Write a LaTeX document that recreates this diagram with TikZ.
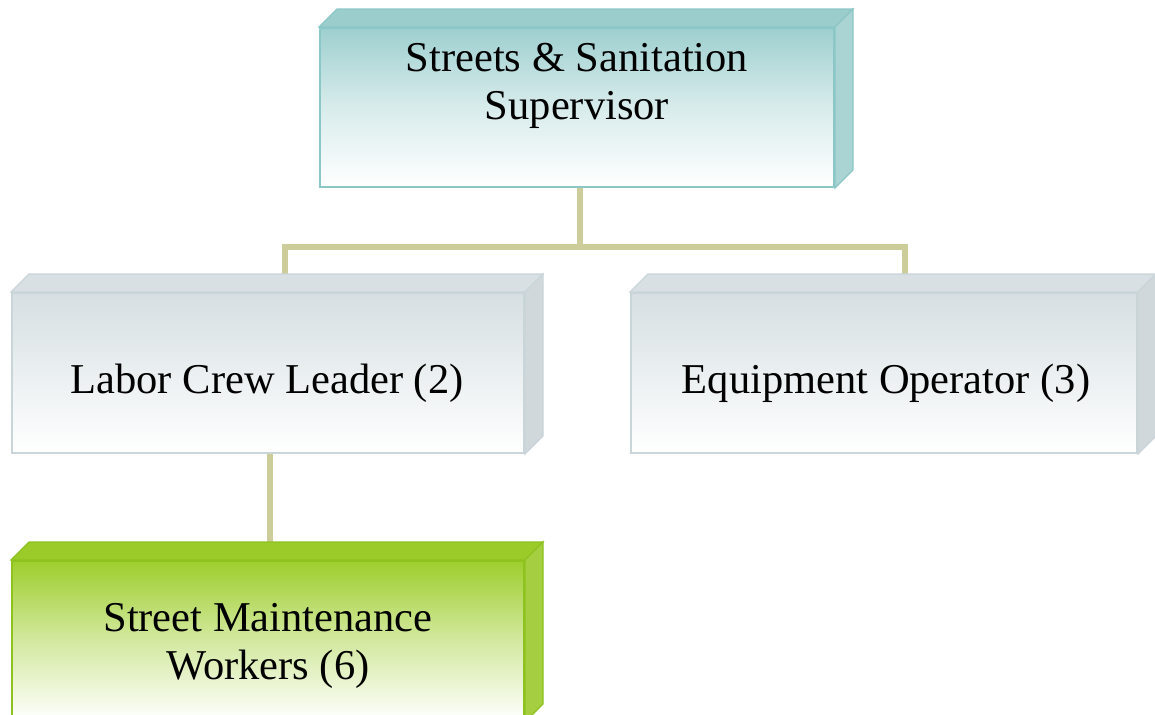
\documentclass[tikz,border=0pt]{standalone}
\usepackage{fontspec}
\setmainfont{Liberation Serif}
\usetikzlibrary{calc}
\pgfdeclarelayer{bg}
\pgfsetlayers{bg,main}
\definecolor{tealtop}{RGB}{158,207,207}
\definecolor{tealedge}{RGB}{140,199,199}
\definecolor{tealface}{RGB}{156,205,205}
\definecolor{tealside}{RGB}{170,212,212}
\definecolor{graytop}{RGB}{214,223,226}
\definecolor{grayedge}{RGB}{201,213,217}
\definecolor{grayface}{RGB}{216,224,227}
\definecolor{grayside}{RGB}{208,216,219}
\definecolor{greentop}{RGB}{158,206,45}
\definecolor{greenedge}{RGB}{141,194,31}
\definecolor{greenface}{RGB}{155,203,40}
\definecolor{greenside}{RGB}{165,207,65}
\definecolor{connc}{RGB}{205,205,155}
\tikzset{
  box/.style={rectangle, inner sep=0pt, line width=1pt},
  tealbox/.style={box, draw=tealedge, top color=tealtop, bottom color=white, middle color=tealtop!40!white},
  graybox/.style={box, draw=grayedge, top color=graytop, bottom color=white, middle color=graytop!50!white},
  greenbox/.style={box, draw=greenedge, top color=greentop, bottom color=white, middle color=greentop!45!white},
  lbl/.style={font=\fontsize{21.25}{24}\selectfont, align=center, inner sep=0pt},
  conn/.style={draw=connc, line width=3pt},
}
\newcommand{\boxdepth}[4]{%
  \fill[#2, draw=#4, line width=0.6pt] (#1.north west) -- ++(9pt,9pt) -- ($(#1.north east)+(9pt,9pt)$) -- (#1.north east) -- cycle;
  \fill[#3, draw=#4, line width=0.6pt] (#1.north east) -- ++(9pt,9pt) -- ($(#1.south east)+(9pt,9pt)$) -- (#1.south east) -- cycle;
}
\begin{document}
\begin{tikzpicture}[x=0.5pt,y=-0.5pt]
\useasboundingbox (0,0) rectangle (1155,714);

\node[tealbox, minimum width=257pt, minimum height=79.5pt] (sup) at (577,107.5) {};
\boxdepth{sup}{tealface}{tealside}{tealedge}
\node[lbl] (tsup) at (577,86) {Streets \& Sanitation\\Supervisor};

\node[graybox, minimum width=256pt, minimum height=80pt] (lab) at (268,373) {};
\boxdepth{lab}{grayface}{grayside}{grayedge}
\node[lbl] (tlab) at (267,383) {Labor Crew Leader (2)};

\node[graybox, minimum width=253pt, minimum height=80pt] (equ) at (884,373) {};
\boxdepth{equ}{grayface}{grayside}{grayedge}
\node[lbl] (tequ) at (886,383) {Equipment Operator (3)};

\node[greenbox, minimum width=256pt, minimum height=80pt] (str) at (268,641) {};
\boxdepth{str}{greenface}{greenside}{greenedge}
\node[lbl] (tstr) at (268,646) {Street Maintenance\\Workers (6)};

\begin{pgfonlayer}{bg}
\fill[white] (0,0) rectangle (1155,714);
\coordinate (labback) at ($(lab.north)+(8.5pt,9pt)$);
\coordinate (equback) at ($(equ.north)+(10.5pt,9pt)$);
\coordinate (supout) at ($(sup.south)+(1.5pt,0)$);
\coordinate (jct) at ($(supout)+(0,-29.5pt)$);
\draw[conn] (supout) -- (jct);
\draw[conn] (labback) |- (jct) -| (equback);
\draw[conn] ($(lab.south)+(0.75pt,0)$) -- ($(str.north)+(0.75pt,0)$);
\end{pgfonlayer}
\end{tikzpicture}
\end{document}
